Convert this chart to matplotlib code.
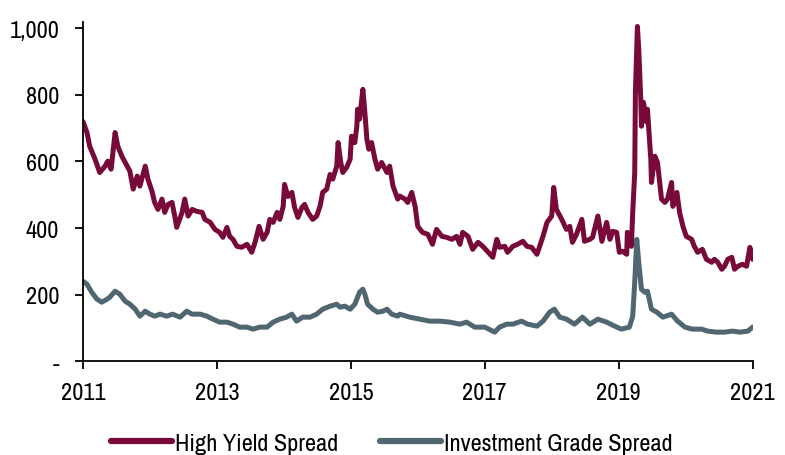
import matplotlib
matplotlib.use("Agg")
import matplotlib.pyplot as plt
from matplotlib.ticker import FuncFormatter

plt.rcParams['font.family'] = ['Archivo Narrow', 'DejaVu Sans']

hy_t = [2011.00, 2011.06, 2011.10, 2011.18, 2011.25, 2011.33, 2011.37, 2011.42, 2011.48, 2011.52,
        2011.58, 2011.66, 2011.70, 2011.75, 2011.81, 2011.85, 2011.93, 2011.97, 2012.03, 2012.07,
        2012.12, 2012.18, 2012.22, 2012.27, 2012.33, 2012.37, 2012.40, 2012.48, 2012.52, 2012.57,
        2012.63, 2012.70, 2012.78, 2012.82, 2012.90, 2012.97, 2013.04, 2013.09, 2013.15, 2013.19,
        2013.24, 2013.30, 2013.37, 2013.45, 2013.52, 2013.57, 2013.63, 2013.69, 2013.75, 2013.79,
        2013.84, 2013.90, 2013.94, 2013.99, 2014.01, 2014.06, 2014.12, 2014.16, 2014.21, 2014.27,
        2014.31, 2014.36, 2014.43, 2014.49, 2014.54, 2014.58, 2014.64, 2014.69, 2014.73, 2014.79,
        2014.81, 2014.85, 2014.88, 2014.94, 2014.99, 2015.01, 2015.06, 2015.09, 2015.10, 2015.13,
        2015.18, 2015.21, 2015.24, 2015.27, 2015.31, 2015.36, 2015.40, 2015.46, 2015.54, 2015.58,
        2015.63, 2015.70, 2015.73, 2015.81, 2015.85, 2015.91, 2015.96, 2016.00, 2016.07, 2016.15,
        2016.22, 2016.28, 2016.36, 2016.43, 2016.51, 2016.58, 2016.63, 2016.67, 2016.75, 2016.82,
        2016.90, 2016.97, 2017.04, 2017.12, 2017.18, 2017.22, 2017.30, 2017.34, 2017.42, 2017.49,
        2017.57, 2017.63, 2017.70, 2017.78, 2017.82, 2017.87, 2017.93, 2018.00, 2018.03, 2018.07,
        2018.15, 2018.22, 2018.27, 2018.31, 2018.37, 2018.45, 2018.49, 2018.57, 2018.61, 2018.69,
        2018.75, 2018.82, 2018.87, 2018.91, 2018.97, 2019.01, 2019.06, 2019.12, 2019.13, 2019.19,
        2019.21, 2019.24, 2019.25, 2019.28, 2019.30, 2019.33, 2019.34, 2019.37, 2019.42, 2019.43,
        2019.48, 2019.49, 2019.54, 2019.58, 2019.64, 2019.69, 2019.73, 2019.79, 2019.81, 2019.87,
        2019.91, 2019.96, 2020.01, 2020.09, 2020.13, 2020.18, 2020.25, 2020.31, 2020.39, 2020.43,
        2020.48, 2020.54, 2020.58, 2020.63, 2020.69, 2020.73, 2020.78, 2020.85, 2020.91, 2020.96,
        2021.00]
hy_v = [720, 687, 646, 607, 567, 586, 601, 577, 687, 646,
        616, 586, 571, 517, 556, 526, 586, 547, 511, 477,
        456, 487, 447, 471, 477, 436, 402, 447, 487, 436,
        456, 450, 447, 426, 417, 396, 387, 372, 402, 375,
        366, 345, 342, 351, 327, 357, 405, 366, 387, 426,
        417, 447, 426, 465, 531, 495, 507, 462, 432, 462,
        471, 447, 426, 436, 465, 507, 517, 561, 547, 586,
        657, 597, 567, 583, 607, 676, 657, 706, 757, 727,
        817, 747, 667, 637, 657, 607, 577, 597, 567, 586,
        526, 487, 496, 487, 477, 507, 465, 405, 387, 381,
        351, 396, 375, 372, 366, 375, 351, 387, 375, 336,
        357, 345, 330, 312, 366, 342, 345, 327, 345, 351,
        360, 345, 342, 321, 345, 375, 417, 436, 522, 456,
        426, 396, 405, 357, 381, 426, 360, 366, 372, 436,
        360, 417, 366, 390, 387, 327, 330, 321, 387, 345,
        447, 567, 808, 1006, 937, 787, 706, 778, 718, 757,
        607, 537, 616, 597, 487, 477, 487, 537, 465, 507,
        447, 405, 375, 366, 345, 327, 336, 306, 297, 306,
        297, 276, 285, 306, 312, 276, 285, 291, 285, 342,
        306]

ig_t = [2011.00, 2011.06, 2011.13, 2011.21, 2011.28, 2011.36, 2011.40, 2011.48, 2011.55, 2011.63,
        2011.70, 2011.78, 2011.85, 2011.93, 2012.00, 2012.07, 2012.15, 2012.25, 2012.34, 2012.45,
        2012.55, 2012.63, 2012.75, 2012.85, 2012.94, 2013.04, 2013.15, 2013.24, 2013.34, 2013.45,
        2013.54, 2013.64, 2013.75, 2013.84, 2013.94, 2014.04, 2014.12, 2014.19, 2014.28, 2014.39,
        2014.49, 2014.58, 2014.69, 2014.79, 2014.84, 2014.91, 2014.99, 2015.06, 2015.13, 2015.18,
        2015.21, 2015.25, 2015.33, 2015.40, 2015.48, 2015.54, 2015.61, 2015.70, 2015.73, 2015.88,
        2016.03, 2016.18, 2016.33, 2016.48, 2016.63, 2016.73, 2016.85, 2017.00, 2017.15, 2017.22,
        2017.33, 2017.42, 2017.55, 2017.64, 2017.78, 2017.87, 2017.97, 2018.04, 2018.12, 2018.22,
        2018.34, 2018.46, 2018.57, 2018.69, 2018.82, 2018.94, 2019.04, 2019.16, 2019.21, 2019.24,
        2019.27, 2019.30, 2019.34, 2019.39, 2019.43, 2019.49, 2019.57, 2019.66, 2019.79, 2019.88,
        2019.99, 2020.10, 2020.24, 2020.33, 2020.46, 2020.58, 2020.70, 2020.81, 2020.93, 2021.00]
ig_v = [240, 231, 207, 186, 177, 186, 192, 210, 201, 180,
        171, 156, 135, 150, 141, 135, 141, 135, 141, 132,
        150, 141, 141, 135, 126, 117, 117, 111, 102, 102,
        96, 102, 102, 117, 126, 132, 141, 120, 132, 132,
        141, 156, 165, 171, 162, 165, 156, 171, 207, 216,
        201, 171, 156, 147, 150, 156, 141, 135, 141, 132,
        126, 120, 120, 117, 111, 117, 102, 102, 87, 102,
        111, 111, 120, 111, 105, 120, 147, 156, 132, 126,
        111, 132, 111, 126, 117, 105, 96, 102, 135, 237,
        366, 297, 216, 207, 210, 156, 147, 132, 141, 120,
        102, 96, 96, 90, 87, 87, 90, 87, 90, 102]

x_ticks = [2011, 2013, 2015, 2017, 2019, 2021]
y_ticks = [0, 200, 400, 600, 800, 1000]
series_names = ["High Yield Spread", "Investment Grade Spread"]
hy_color = "#780A3A"
ig_color = "#506670"

fig = plt.figure(figsize=(7.85, 4.56), dpi=100)
ax = fig.add_axes([0.1057, 0.206, 0.853, 0.744])

ax.plot(hy_t, hy_v, color=hy_color, lw=3.6, solid_joinstyle='round', solid_capstyle='round', label=series_names[0])
ax.plot(ig_t, ig_v, color=ig_color, lw=3.6, solid_joinstyle='round', solid_capstyle='round', label=series_names[1])

ax.set_xlim(2011, 2021)
ax.set_ylim(0, 1020)
ax.set_xticks(x_ticks)
ax.set_xticklabels([str(t) for t in x_ticks])
ax.set_yticks(y_ticks)
ax.yaxis.set_major_formatter(FuncFormatter(lambda v, p: "-" if v == 0 else f"{int(v):,}"))

for s in ["top", "right"]:
    ax.spines[s].set_visible(False)
for s in ["left", "bottom"]:
    ax.spines[s].set_linewidth(1.3)
    ax.spines[s].set_color("black")
ax.tick_params(axis='both', direction='out', length=6, width=1.3, labelsize=17.5, colors='black')
ax.tick_params(axis='y', pad=11)
ax.tick_params(axis='x', pad=9)

leg = fig.legend(loc='lower center', bbox_to_anchor=(0.499, 0.0), ncol=2, frameon=False,
                 fontsize=17.5, handlelength=2.5, handletextpad=0.12, columnspacing=1.75,
                 borderpad=0.05, borderaxespad=0)
for line in leg.get_lines():
    line.set_linewidth(4.5)

fig.savefig("out.png", dpi=100)
